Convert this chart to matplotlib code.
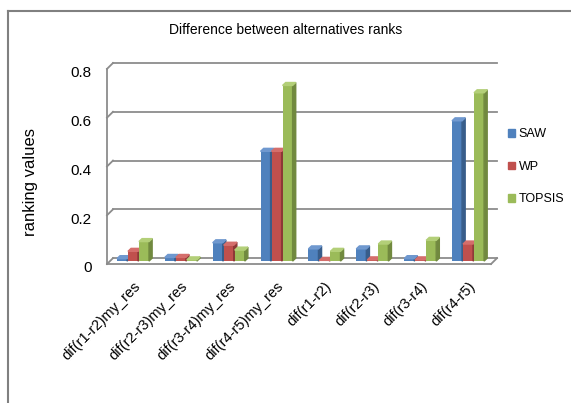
import matplotlib.pyplot as plt
from matplotlib.patches import Polygon, Patch
from matplotlib.lines import Line2D
import numpy as np

plt.rcParams['font.family'] = ['Liberation Sans', 'DejaVu Sans']

categories = ['dif(r1-r2)my_res', 'dif(r2-r3)my_res', 'dif(r3-r4)my_res', 'dif(r4-r5)my_res',
              'dif(r1-r2)', 'dif(r2-r3)', 'dif(r3-r4)', 'dif(r4-r5)']
saw = [0.01, 0.015, 0.075, 0.45, 0.05, 0.05, 0.01, 0.575]
wp = [0.04, 0.015, 0.065, 0.45, 0.003, 0.005, 0.005, 0.07]
topsis = [0.08, 0.005, 0.045, 0.72, 0.04, 0.07, 0.085, 0.69]
series = [('SAW', saw), ('WP', wp), ('TOPSIS', topsis)]
colors = ['#4F81BD', '#C0504D', '#9BBB59']
sides = ['#385D8A', '#8C3836', '#71893F']
tops = ['#6F98CF', '#D46E6B', '#B3CF78']

W, H = 571, 403
fig = plt.figure(figsize=(W / 100, H / 100), dpi=100)
ax = fig.add_axes([107 / W, 1 - 267 / H, (497 - 107) / W, (267 - 62) / H])

x0, x1 = -0.543, 7.605
ax.set_xlim(x0, x1)
y_per_px = 1 / 247.6
ax.set_ylim(-6 * y_per_px, 0.8 + 1 * y_per_px)
ddx, ddy = 6 / 47.9, 6 * y_per_px  # wall depth

# back wall gridlines + left wall sliver
grid_c = '#8C8C8C'
for v in [0, 0.2, 0.4, 0.6, 0.8]:
    ax.plot([x0 + ddx, x1], [v, v], color=grid_c, lw=1.3, zorder=1, clip_on=False)
    ax.plot([x0, x0 + ddx], [v - ddy, v], color=grid_c, lw=1.3, zorder=1, clip_on=False)
ax.plot([x0, x0], [-ddy, 0.8 - ddy], color=grid_c, lw=1.3, clip_on=False)
# floor front edge and right edge
ax.plot([x0, x1 - ddx], [-ddy, -ddy], color=grid_c, lw=1.3, clip_on=False)
ax.plot([x1 - ddx, x1], [-ddy, 0], color=grid_c, lw=1.3, clip_on=False)

x = np.arange(len(categories))
w = 0.21
pitch = 0.23
sdx, sdy = 0.065, 3 * y_per_px
base = -3 * y_per_px
for j, (name, vals) in enumerate(series):
    xs = x + (j - 1) * pitch
    ax.bar(xs, vals, width=w, bottom=base, color=colors[j], zorder=3 + j)
    for xc, v in zip(xs, vals):
        top = base + v
        r = xc + w / 2
        l = xc - w / 2
        ax.add_patch(Polygon([(r, base), (r + sdx, base + sdy), (r + sdx, top + sdy), (r, top)],
                             closed=True, color=sides[j], zorder=3 + j))
        ax.add_patch(Polygon([(l, top), (l + sdx, top + sdy), (r + sdx, top + sdy), (r, top)],
                             closed=True, color=tops[j], zorder=3 + j))

for s in ax.spines.values():
    s.set_visible(False)
ax.set_yticks([v - 9 * y_per_px for v in [0, 0.2, 0.4, 0.6, 0.8]])
ax.set_yticklabels(['0', '0.2', '0.4', '0.6', '0.8'])
ax.tick_params(axis='y', length=0, pad=11, labelsize=11)
ax.set_xticks(x)
ax.set_xticklabels(categories, rotation=45, ha='right', rotation_mode='anchor', fontsize=10.5)
ax.tick_params(axis='x', length=0, pad=9)

fig.text(30 / W, 1 - 182 / H, 'ranking values', rotation=90, ha='center', va='center', fontsize=12)
fig.text(286 / W, 1 - 30 / H, 'Difference between alternatives ranks', ha='center', va='center', fontsize=10)

handles = [Patch(color=c, label=n) for c, (n, _) in zip(colors, series)]
fig.legend(handles=handles, loc='upper left', bbox_to_anchor=(497 / W, 1 - 117 / H),
           frameon=False, handlelength=0.55, handleheight=0.6, handletextpad=0.3,
           labelspacing=1.65, fontsize=9)

# chart border
fig.add_artist(Line2D([8 / W, 1], [1 - 11 / H] * 2, transform=fig.transFigure, color='#808080', lw=1.5))
fig.add_artist(Line2D([8 / W, 8 / W], [0, 1 - 11 / H], transform=fig.transFigure, color='#808080', lw=1.5))

fig.savefig('out.png', dpi=100)
